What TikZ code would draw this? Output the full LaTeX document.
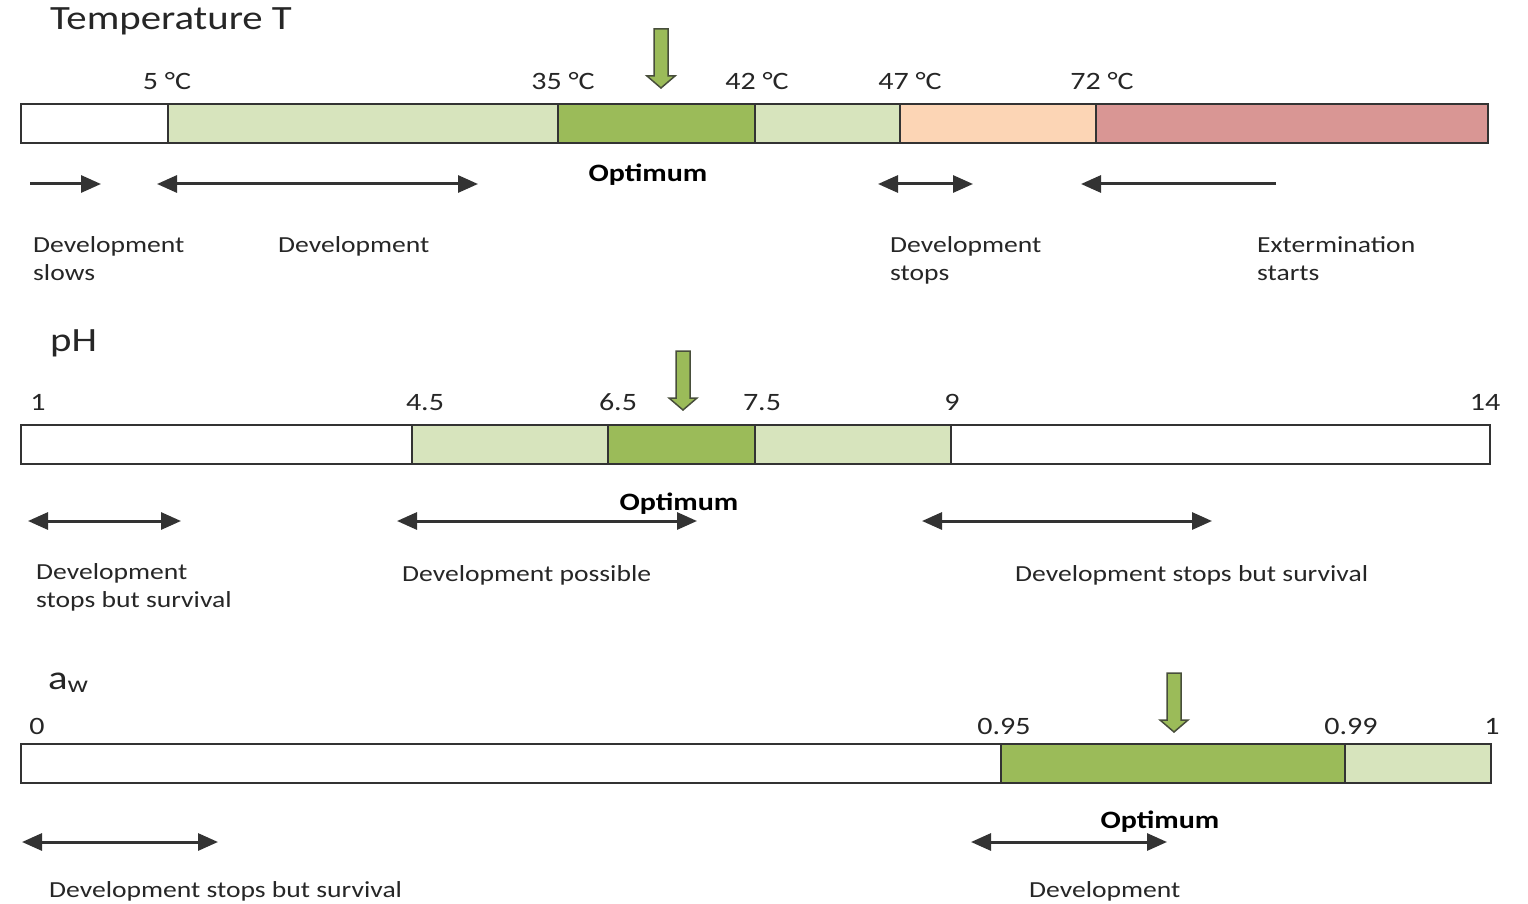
\documentclass[tikz,border=0pt]{standalone}
\usepackage{fontspec}
\setmainfont{Carlito}[FakeStretch=1.2]
\usetikzlibrary{arrows.meta,fit}
\definecolor{lgreen}{HTML}{D7E4BD}
\definecolor{dgreen}{HTML}{9BBB59}
\definecolor{peach}{HTML}{FCD5B5}
\definecolor{rose}{HTML}{D99694}
\definecolor{edge}{HTML}{333333}
\definecolor{txt}{HTML}{262626}
\begin{document}
\begin{tikzpicture}[x=1pt,y=-1pt,
  seg/.style={draw=edge, line width=2.5pt, inner sep=0pt, outer sep=0pt},
  lbl/.style={anchor=base west, inner sep=0pt, text=txt, font=\fontsize{23}{28}\selectfont, align=left},
  val/.style={anchor=base, inner sep=0pt, text=txt, font=\fontsize{25}{30}\selectfont},
  ttl/.style={anchor=base west, inner sep=0pt, text=txt, font=\fontsize{34}{40}\selectfont},
  opt/.style={anchor=base, inner sep=0pt, text=black, font=\bfseries\fontsize{25}{30}\selectfont},
  tip/.tip={Triangle[length=20pt,width=17pt]},
  rng/.style={draw=edge, line width=3pt, tip-tip},
  one/.style={draw=edge, line width=3pt, -tip},
  garr/.pic={\draw[fill=dgreen, draw=edge!80!dgreen, line width=1.5pt]
     (-7,0) -- (7,0) -- (7,47) -- (14,47) -- (0,59) -- (-14,47) -- (-7,47) -- cycle;}
]
\useasboundingbox (0,0) rectangle (1528,904);

%% ---------- Temperature ----------
\node[ttl] (tT) at (50,30) {Temperature T};
\node[seg, fill=white,  fit={(21,104)(168,143)}]  (t0) {};
\node[seg, fill=lgreen, fit={(168,104)(558,143)}] (t1) {};
\node[seg, fill=dgreen, fit={(558,104)(755,143)}] (t2) {};
\node[seg, fill=lgreen, fit={(755,104)(900,143)}] (t3) {};
\node[seg, fill=peach,  fit={(900,104)(1096,143)}] (t4) {};
\node[seg, fill=rose,   fit={(1096,104)(1488,143)}] (t5) {};
\node[val] (tv1) at (167,90) {5 °C};
\node[val] (tv2) at (563,90) {35 °C};
\node[val] (tv3) at (757,90) {42 °C};
\node[val] (tv4) at (910,90) {47 °C};
\node[val] (tv5) at (1102,90) {72 °C};
\pic at (661,29) {garr};
\node[opt] (tO) at (648,182) {Optimum};
\coordinate (ta1) at (30,184);   \coordinate (ta2) at (101,184);
\coordinate (tb1) at (157,184);  \coordinate (tb2) at (478,184);
\coordinate (tc1) at (878,184);  \coordinate (tc2) at (973,184);
\coordinate (td1) at (1276,184); \coordinate (td2) at (1081,184);
\draw[one] (ta1) -- (ta2);
\draw[rng] (tb1) -- (tb2);
\draw[rng] (tc1) -- (tc2);
\draw[one] (td1) -- (td2);
% two-line labels: base anchor sits on the last line
\node[lbl] (tl1) at (33,280) {Development\\slows};
\node[lbl] (tl2) at (278,252) {Development};
\node[lbl] (tl3) at (890,280) {Development\\stops};
\node[lbl] (tl4) at (1257,280) {Extermination\\starts};

%% ---------- pH ----------
\node[ttl] (pT) at (50,351) {pH};
\node[seg, fill=white,  fit={(21,425)(412,464)}]   (p0) {};
\node[seg, fill=lgreen, fit={(412,425)(608,464)}]  (p1) {};
\node[seg, fill=dgreen, fit={(608,425)(755,464)}]  (p2) {};
\node[seg, fill=lgreen, fit={(755,425)(951,464)}]  (p3) {};
\node[seg, fill=white,  fit={(951,425)(1490,464)}] (p4) {};
\node[val] (pv0) at (38,410) {1};
\node[val] (pv1) at (425,410) {4.5};
\node[val] (pv2) at (618,410) {6.5};
\node[val] (pv3) at (762,410) {7.5};
\node[val] (pv4) at (952,410) {9};
\node[val] (pv5) at (1485,410) {14};
\pic at (683,351) {garr};
\node[opt] (pO) at (679,510) {Optimum};
\coordinate (pa1) at (28,521);  \coordinate (pa2) at (181,521);
\coordinate (pb1) at (397,521); \coordinate (pb2) at (697,521);
\coordinate (pc1) at (922,521); \coordinate (pc2) at (1212,521);
\draw[rng] (pa1) -- (pa2);
\draw[rng] (pb1) -- (pb2);
\draw[rng] (pc1) -- (pc2);
\node[lbl] (pl1) at (36,607) {Development\\stops but survival};
\node[lbl] (pl2) at (402,581) {Development possible};
\node[lbl] (pl3) at (1015,581) {Development stops but survival};

%% ---------- aw ----------
\node[ttl] (aT) at (48,689) {a\textsubscript{w}};
\node[seg, fill=white,  fit={(21,744)(1001,783)}]   (a0) {};
\node[seg, fill=dgreen, fit={(1001,744)(1345,783)}] (a1) {};
\node[seg, fill=lgreen, fit={(1345,744)(1491,783)}] (a2) {};
\node[val] (av0) at (37,734) {0};
\node[val] (av1) at (1004,734) {0.95};
\node[val] (av2) at (1351,734) {0.99};
\node[val] (av3) at (1492,734) {1};
\pic at (1174,673) {garr};
\node[opt] (aO) at (1160,828) {Optimum};
\coordinate (aa1) at (22,842);  \coordinate (aa2) at (218,842);
\coordinate (ab1) at (971,842); \coordinate (ab2) at (1167,842);
\draw[rng] (aa1) -- (aa2);
\draw[rng] (ab1) -- (ab2);
\node[lbl] (al1) at (49,897) {Development stops but survival};
\node[lbl] (al2) at (1029,897) {Development};
\end{tikzpicture}
\end{document}
